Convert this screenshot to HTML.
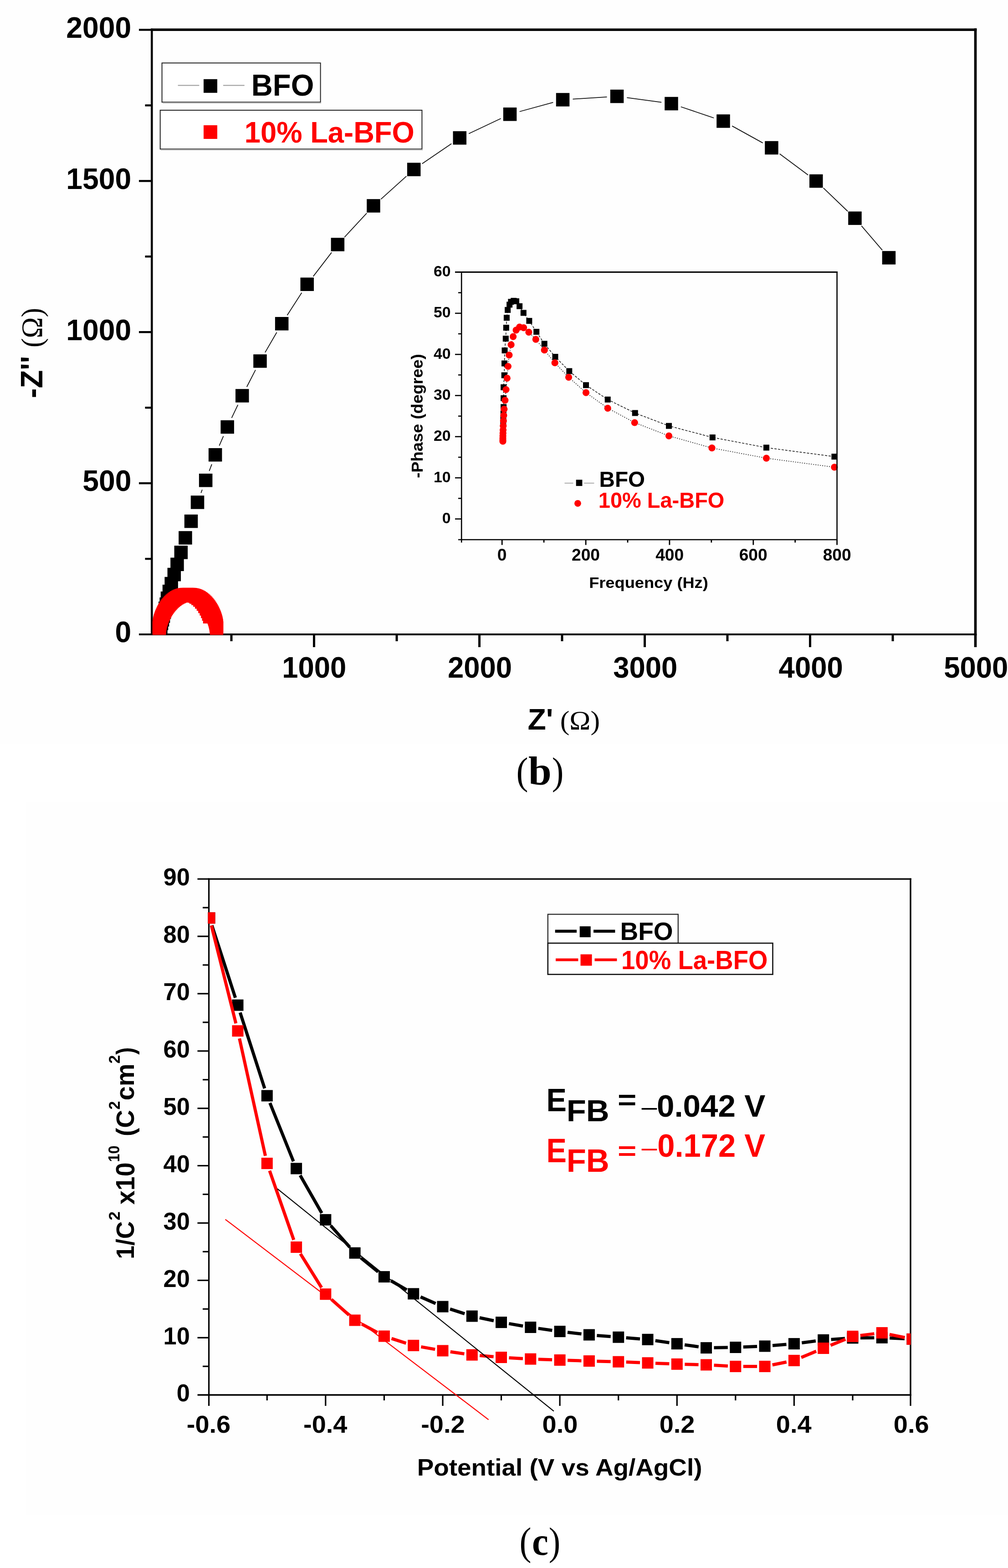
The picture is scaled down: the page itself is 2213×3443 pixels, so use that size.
<!DOCTYPE html>
<html><head><meta charset="utf-8"><title>Figure</title>
<style>html,body{margin:0;padding:0;background:#fff;}svg{display:block;}</style>
</head><body>
<svg width="2213" height="3443" viewBox="0 0 2213 3443">
<rect x="0" y="0" width="2213" height="3443" fill="#ffffff"/>
<rect x="0" y="0" width="2213" height="1634" fill="#fefefe"/>
<rect x="56" y="1761" width="2157" height="1565" fill="#fefefe"/>
<rect x="333.3" y="65.2" width="1808.2" height="1327.8" fill="#fefefe"/>
<line x1="1937.1" y1="549.3" x2="1891.3" y2="495.9" stroke="#111" stroke-width="1.8"/>
<line x1="1861.1" y1="464" x2="1807.6" y2="412.7" stroke="#111" stroke-width="1.8"/>
<line x1="1774.1" y1="384.3" x2="1711.6" y2="337.7" stroke="#111" stroke-width="1.8"/>
<line x1="1674.7" y1="313.9" x2="1607.3" y2="276.6" stroke="#111" stroke-width="1.8"/>
<line x1="1567.2" y1="259" x2="1494.8" y2="234.5" stroke="#111" stroke-width="1.8"/>
<line x1="1452.2" y1="224.6" x2="1376.3" y2="214.4" stroke="#111" stroke-width="1.8"/>
<line x1="1332.5" y1="212.9" x2="1257.5" y2="217.6" stroke="#111" stroke-width="1.8"/>
<line x1="1214.3" y1="224.8" x2="1140.7" y2="245" stroke="#111" stroke-width="1.8"/>
<line x1="1099.6" y1="260.2" x2="1029.2" y2="293.5" stroke="#111" stroke-width="1.8"/>
<line x1="991.2" y1="315.4" x2="926.7" y2="359.6" stroke="#111" stroke-width="1.8"/>
<line x1="892.3" y1="386.8" x2="836.3" y2="437.3" stroke="#111" stroke-width="1.8"/>
<line x1="805.1" y1="468.2" x2="756.3" y2="520.8" stroke="#111" stroke-width="1.8"/>
<line x1="728" y1="554.4" x2="687.7" y2="606.9" stroke="#111" stroke-width="1.8"/>
<line x1="662.4" y1="642.8" x2="630.5" y2="692.2" stroke="#111" stroke-width="1.8"/>
<line x1="607.6" y1="729.7" x2="582" y2="773.9" stroke="#111" stroke-width="1.8"/>
<line x1="560.9" y1="812.4" x2="541.8" y2="849.5" stroke="#111" stroke-width="1.8"/>
<line x1="522.3" y1="888.9" x2="508.6" y2="917.6" stroke="#111" stroke-width="1.8"/>
<line x1="490.5" y1="957.7" x2="481.4" y2="978.6" stroke="#111" stroke-width="1.8"/>
<line x1="465" y1="1019.4" x2="459.4" y2="1034.1" stroke="#111" stroke-width="1.8"/>
<line x1="443.9" y1="1075.3" x2="441.3" y2="1082.4" stroke="#111" stroke-width="1.8"/>
<rect x="1936.7" y="551.2" width="29.5" height="29.5" fill="#000"/>
<rect x="1862.2" y="464.4" width="29.5" height="29.5" fill="#000"/>
<rect x="1777" y="382.8" width="29.5" height="29.5" fill="#000"/>
<rect x="1679.2" y="309.8" width="29.5" height="29.5" fill="#000"/>
<rect x="1573.2" y="251.2" width="29.5" height="29.5" fill="#000"/>
<rect x="1459.2" y="212.8" width="29.5" height="29.5" fill="#000"/>
<rect x="1339.8" y="196.8" width="29.5" height="29.5" fill="#000"/>
<rect x="1220.8" y="204.2" width="29.5" height="29.5" fill="#000"/>
<rect x="1104.8" y="236.1" width="29.5" height="29.5" fill="#000"/>
<rect x="994.5" y="288.1" width="29.5" height="29.5" fill="#000"/>
<rect x="893.9" y="357.4" width="29.5" height="29.5" fill="#000"/>
<rect x="805.2" y="437.2" width="29.5" height="29.5" fill="#000"/>
<rect x="726.6" y="522.2" width="29.5" height="29.5" fill="#000"/>
<rect x="659.5" y="609.5" width="29.5" height="29.5" fill="#000"/>
<rect x="603.9" y="696" width="29.5" height="29.5" fill="#000"/>
<rect x="556.2" y="778.1" width="29.5" height="29.5" fill="#000"/>
<rect x="517" y="854.2" width="29.5" height="29.5" fill="#000"/>
<rect x="484.4" y="922.8" width="29.5" height="29.5" fill="#000"/>
<rect x="457.9" y="984" width="29.5" height="29.5" fill="#000"/>
<rect x="436.9" y="1040" width="29.5" height="29.5" fill="#000"/>
<rect x="418.8" y="1088.2" width="29.5" height="29.5" fill="#000"/>
<rect x="404.8" y="1129.8" width="29.5" height="29.5" fill="#000"/>
<rect x="392.2" y="1166.2" width="29.5" height="29.5" fill="#000"/>
<rect x="382.6" y="1198.2" width="29.5" height="29.5" fill="#000"/>
<rect x="374.2" y="1224.5" width="29.5" height="29.5" fill="#000"/>
<rect x="367.6" y="1246.8" width="29.5" height="29.5" fill="#000"/>
<rect x="361.4" y="1266.8" width="29.5" height="29.5" fill="#000"/>
<rect x="356.8" y="1283.8" width="29.5" height="29.5" fill="#000"/>
<rect x="352.8" y="1298.8" width="29.5" height="29.5" fill="#000"/>
<rect x="350.4" y="1311.8" width="29.5" height="29.5" fill="#000"/>
<rect x="348.1" y="1320.8" width="29.5" height="29.5" fill="#000"/>
<rect x="345.8" y="1329.8" width="29.5" height="29.5" fill="#000"/>
<rect x="343.8" y="1338.2" width="29.5" height="29.5" fill="#000"/>
<rect x="341.8" y="1346.2" width="29.5" height="29.5" fill="#000"/>
<rect x="339.8" y="1354.2" width="29.5" height="29.5" fill="#000"/>
<rect x="338.2" y="1362.2" width="29.5" height="29.5" fill="#000"/>
<line x1="333.3" y1="62.7" x2="333.3" y2="1395" stroke="#000" stroke-width="4.6"/>
<line x1="2141.5" y1="62.2" x2="2141.5" y2="1395" stroke="#000" stroke-width="5.6"/>
<line x1="331" y1="65.2" x2="2144.3" y2="65.2" stroke="#000" stroke-width="5.6"/>
<line x1="305" y1="1393" x2="2144.3" y2="1393" stroke="#000" stroke-width="4.2"/>
<clipPath id="cb"><rect x="333" y="60" width="1810" height="1334.8"/></clipPath>
<g clip-path="url(#cb)">
<rect x="334.8" y="1364.8" width="29.5" height="29.5" fill="#ff0000"/>
<rect x="334.8" y="1363.2" width="29.5" height="29.5" fill="#ff0000"/>
<rect x="335" y="1361.1" width="29.5" height="29.5" fill="#ff0000"/>
<rect x="335.3" y="1358.7" width="29.5" height="29.5" fill="#ff0000"/>
<rect x="335.8" y="1356.2" width="29.5" height="29.5" fill="#ff0000"/>
<rect x="336.3" y="1353.4" width="29.5" height="29.5" fill="#ff0000"/>
<rect x="337" y="1350.6" width="29.5" height="29.5" fill="#ff0000"/>
<rect x="337.8" y="1347.7" width="29.5" height="29.5" fill="#ff0000"/>
<rect x="338.8" y="1344.7" width="29.5" height="29.5" fill="#ff0000"/>
<rect x="339.8" y="1341.7" width="29.5" height="29.5" fill="#ff0000"/>
<rect x="341" y="1338.7" width="29.5" height="29.5" fill="#ff0000"/>
<rect x="342.3" y="1335.7" width="29.5" height="29.5" fill="#ff0000"/>
<rect x="343.7" y="1332.6" width="29.5" height="29.5" fill="#ff0000"/>
<rect x="345.2" y="1329.6" width="29.5" height="29.5" fill="#ff0000"/>
<rect x="346.8" y="1326.7" width="29.5" height="29.5" fill="#ff0000"/>
<rect x="348.5" y="1323.8" width="29.5" height="29.5" fill="#ff0000"/>
<rect x="350.3" y="1320.9" width="29.5" height="29.5" fill="#ff0000"/>
<rect x="352.2" y="1318.1" width="29.5" height="29.5" fill="#ff0000"/>
<rect x="354.2" y="1315.4" width="29.5" height="29.5" fill="#ff0000"/>
<rect x="356.3" y="1312.8" width="29.5" height="29.5" fill="#ff0000"/>
<rect x="358.5" y="1310.3" width="29.5" height="29.5" fill="#ff0000"/>
<rect x="360.7" y="1308" width="29.5" height="29.5" fill="#ff0000"/>
<rect x="363" y="1305.7" width="29.5" height="29.5" fill="#ff0000"/>
<rect x="365.4" y="1303.6" width="29.5" height="29.5" fill="#ff0000"/>
<rect x="367.9" y="1301.6" width="29.5" height="29.5" fill="#ff0000"/>
<rect x="370.4" y="1299.8" width="29.5" height="29.5" fill="#ff0000"/>
<rect x="373" y="1298.1" width="29.5" height="29.5" fill="#ff0000"/>
<rect x="375.6" y="1296.6" width="29.5" height="29.5" fill="#ff0000"/>
<rect x="378.3" y="1295.2" width="29.5" height="29.5" fill="#ff0000"/>
<rect x="381" y="1294.1" width="29.5" height="29.5" fill="#ff0000"/>
<rect x="383.7" y="1293.1" width="29.5" height="29.5" fill="#ff0000"/>
<rect x="386.5" y="1292.2" width="29.5" height="29.5" fill="#ff0000"/>
<rect x="389.3" y="1291.6" width="29.5" height="29.5" fill="#ff0000"/>
<rect x="392.1" y="1291.1" width="29.5" height="29.5" fill="#ff0000"/>
<rect x="394.9" y="1290.8" width="29.5" height="29.5" fill="#ff0000"/>
<rect x="397.8" y="1290.8" width="29.5" height="29.5" fill="#ff0000"/>
<rect x="400.6" y="1290.8" width="29.5" height="29.5" fill="#ff0000"/>
<rect x="403.4" y="1291.1" width="29.5" height="29.5" fill="#ff0000"/>
<rect x="406.2" y="1291.6" width="29.5" height="29.5" fill="#ff0000"/>
<rect x="409" y="1292.2" width="29.5" height="29.5" fill="#ff0000"/>
<rect x="411.8" y="1293.1" width="29.5" height="29.5" fill="#ff0000"/>
<rect x="414.5" y="1294.1" width="29.5" height="29.5" fill="#ff0000"/>
<rect x="417.2" y="1295.2" width="29.5" height="29.5" fill="#ff0000"/>
<rect x="419.9" y="1296.6" width="29.5" height="29.5" fill="#ff0000"/>
<rect x="422.5" y="1298.1" width="29.5" height="29.5" fill="#ff0000"/>
<rect x="425.1" y="1299.8" width="29.5" height="29.5" fill="#ff0000"/>
<rect x="427.6" y="1301.6" width="29.5" height="29.5" fill="#ff0000"/>
<rect x="430.1" y="1303.6" width="29.5" height="29.5" fill="#ff0000"/>
<rect x="432.5" y="1305.7" width="29.5" height="29.5" fill="#ff0000"/>
<rect x="434.8" y="1308" width="29.5" height="29.5" fill="#ff0000"/>
<rect x="437" y="1310.3" width="29.5" height="29.5" fill="#ff0000"/>
<rect x="439.2" y="1312.8" width="29.5" height="29.5" fill="#ff0000"/>
<rect x="441.3" y="1315.4" width="29.5" height="29.5" fill="#ff0000"/>
<rect x="443.3" y="1318.1" width="29.5" height="29.5" fill="#ff0000"/>
<rect x="445.2" y="1320.9" width="29.5" height="29.5" fill="#ff0000"/>
<rect x="447" y="1323.8" width="29.5" height="29.5" fill="#ff0000"/>
<rect x="448.7" y="1326.7" width="29.5" height="29.5" fill="#ff0000"/>
<rect x="450.3" y="1329.6" width="29.5" height="29.5" fill="#ff0000"/>
<rect x="451.8" y="1332.6" width="29.5" height="29.5" fill="#ff0000"/>
<rect x="453.2" y="1335.7" width="29.5" height="29.5" fill="#ff0000"/>
<rect x="454.5" y="1338.7" width="29.5" height="29.5" fill="#ff0000"/>
<rect x="455.7" y="1341.7" width="29.5" height="29.5" fill="#ff0000"/>
<rect x="456.7" y="1344.7" width="29.5" height="29.5" fill="#ff0000"/>
<rect x="457.7" y="1347.7" width="29.5" height="29.5" fill="#ff0000"/>
<rect x="458.5" y="1350.6" width="29.5" height="29.5" fill="#ff0000"/>
<rect x="459.2" y="1353.4" width="29.5" height="29.5" fill="#ff0000"/>
<rect x="459.7" y="1356.2" width="29.5" height="29.5" fill="#ff0000"/>
<rect x="460.2" y="1358.7" width="29.5" height="29.5" fill="#ff0000"/>
<rect x="460.5" y="1361.1" width="29.5" height="29.5" fill="#ff0000"/>
<rect x="460.7" y="1363.2" width="29.5" height="29.5" fill="#ff0000"/>
<rect x="460.8" y="1364.8" width="29.5" height="29.5" fill="#ff0000"/>
<rect x="445.8" y="1339.5" width="29.5" height="29.5" fill="#ff0000"/>
<rect x="443.6" y="1333.6" width="29.5" height="29.5" fill="#ff0000"/>
<rect x="441.2" y="1327.8" width="29.5" height="29.5" fill="#ff0000"/>
<rect x="438.4" y="1322.2" width="29.5" height="29.5" fill="#ff0000"/>
<rect x="435.2" y="1316.8" width="29.5" height="29.5" fill="#ff0000"/>
<rect x="431.8" y="1311.7" width="29.5" height="29.5" fill="#ff0000"/>
<rect x="428.1" y="1307.1" width="29.5" height="29.5" fill="#ff0000"/>
<rect x="424.2" y="1302.9" width="29.5" height="29.5" fill="#ff0000"/>
<rect x="420.1" y="1299.3" width="29.5" height="29.5" fill="#ff0000"/>
<rect x="415.9" y="1296.3" width="29.5" height="29.5" fill="#ff0000"/>
<rect x="411.5" y="1293.9" width="29.5" height="29.5" fill="#ff0000"/>
</g>
<line x1="305" y1="1061.1" x2="333.3" y2="1061.1" stroke="#000" stroke-width="4.4"/>
<line x1="305" y1="729.2" x2="333.3" y2="729.2" stroke="#000" stroke-width="4.4"/>
<line x1="305" y1="397.4" x2="333.3" y2="397.4" stroke="#000" stroke-width="4.4"/>
<line x1="305" y1="65.5" x2="333.3" y2="65.5" stroke="#000" stroke-width="4.4"/>
<line x1="318.5" y1="1227.1" x2="333.3" y2="1227.1" stroke="#000" stroke-width="4.4"/>
<line x1="318.5" y1="895.2" x2="333.3" y2="895.2" stroke="#000" stroke-width="4.4"/>
<line x1="318.5" y1="563.3" x2="333.3" y2="563.3" stroke="#000" stroke-width="4.4"/>
<line x1="318.5" y1="231.4" x2="333.3" y2="231.4" stroke="#000" stroke-width="4.4"/>
<line x1="689.5" y1="1393" x2="689.5" y2="1421" stroke="#000" stroke-width="5"/>
<line x1="1052.5" y1="1393" x2="1052.5" y2="1421" stroke="#000" stroke-width="5"/>
<line x1="1415.5" y1="1393" x2="1415.5" y2="1421" stroke="#000" stroke-width="5"/>
<line x1="1778.5" y1="1393" x2="1778.5" y2="1421" stroke="#000" stroke-width="5"/>
<line x1="2141.5" y1="1393" x2="2141.5" y2="1421" stroke="#000" stroke-width="5.6"/>
<line x1="508" y1="1393" x2="508" y2="1408" stroke="#000" stroke-width="5"/>
<line x1="871" y1="1393" x2="871" y2="1408" stroke="#000" stroke-width="5"/>
<line x1="1234" y1="1393" x2="1234" y2="1408" stroke="#000" stroke-width="5"/>
<line x1="1597" y1="1393" x2="1597" y2="1408" stroke="#000" stroke-width="5"/>
<line x1="1960" y1="1393" x2="1960" y2="1408" stroke="#000" stroke-width="5"/>
<text transform="translate(252.60,1410.36) scale(1.0030,1)" font-family="'Liberation Sans', Arial, sans-serif" font-size="64.08" font-weight="bold" fill="#000">0</text>
<text transform="translate(181.25,1078.48) scale(1.0030,1)" font-family="'Liberation Sans', Arial, sans-serif" font-size="64.08" font-weight="bold" fill="#000">500</text>
<text transform="translate(145.25,746.61) scale(1.0030,1)" font-family="'Liberation Sans', Arial, sans-serif" font-size="64.08" font-weight="bold" fill="#000">1000</text>
<text transform="translate(145.25,414.73) scale(1.0030,1)" font-family="'Liberation Sans', Arial, sans-serif" font-size="64.08" font-weight="bold" fill="#000">1500</text>
<text transform="translate(145.25,82.86) scale(1.0030,1)" font-family="'Liberation Sans', Arial, sans-serif" font-size="64.08" font-weight="bold" fill="#000">2000</text>
<text transform="translate(619.19,1487.76) scale(0.9920,1)" font-family="'Liberation Sans', Arial, sans-serif" font-size="63.94" font-weight="bold" fill="#000">1000</text>
<text transform="translate(982.99,1487.76) scale(0.9920,1)" font-family="'Liberation Sans', Arial, sans-serif" font-size="63.94" font-weight="bold" fill="#000">2000</text>
<text transform="translate(1346.30,1487.76) scale(0.9920,1)" font-family="'Liberation Sans', Arial, sans-serif" font-size="63.94" font-weight="bold" fill="#000">3000</text>
<text transform="translate(1709.62,1487.76) scale(0.9920,1)" font-family="'Liberation Sans', Arial, sans-serif" font-size="63.94" font-weight="bold" fill="#000">4000</text>
<text transform="translate(2072.15,1487.76) scale(0.9920,1)" font-family="'Liberation Sans', Arial, sans-serif" font-size="63.94" font-weight="bold" fill="#000">5000</text>
<text transform="translate(1158.42,1601.80) scale(1.0187,1)" font-family="'Liberation Sans', Arial, sans-serif" font-size="64.93" font-weight="bold" fill="#000">Z'</text>
<text transform="translate(1229.71,1601.86) scale(1.0541,1)" font-family="'Liberation Serif', 'Times New Roman', serif" font-size="58.79" font-weight="normal" fill="#000">(Ω)</text>
<text transform="translate(92.90,874.21) rotate(-90) scale(0.9472,1)" font-family="'Liberation Sans', Arial, sans-serif" font-size="68.84" font-weight="bold" fill="#000">-Z''</text>
<text transform="translate(91.53,763.08) rotate(-90) scale(0.9314,1)" font-family="'Liberation Serif', 'Times New Roman', serif" font-size="66.37" font-weight="normal" fill="#000">(Ω)</text>
<rect x="355.6" y="138.3" width="348" height="86" fill="#ffffff" stroke="#222" stroke-width="2"/>
<line x1="357" y1="226" x2="705" y2="226" stroke="#bbb" stroke-width="2.5"/>
<line x1="390.6" y1="187.5" x2="437.4" y2="187.5" stroke="#999" stroke-width="1.8"/>
<line x1="490" y1="187.5" x2="536.7" y2="187.5" stroke="#999" stroke-width="1.8"/>
<rect x="447" y="173.8" width="30" height="30" fill="#000"/>
<text transform="translate(551.76,209.74) scale(0.9889,1)" font-family="'Liberation Sans', Arial, sans-serif" font-size="65.92" font-weight="bold" fill="#000">BFO</text>
<rect x="351.7" y="242" width="574.7" height="85.3" fill="#ffffff" stroke="#222" stroke-width="2"/>
<line x1="353" y1="329" x2="928" y2="329" stroke="#bbb" stroke-width="2.5"/>
<rect x="447" y="275" width="30" height="30" fill="#ff0000"/>
<text transform="translate(536.80,312.94) scale(0.9650,1)" font-family="'Liberation Sans', Arial, sans-serif" font-size="65.63" font-weight="bold" fill="#ff0000">10% La-BFO</text>
<rect x="1013.2" y="597.5" width="824.4" height="587.5" fill="#fefefe"/>
<path d="M1831.9,1002.7 L1682.5,982.9 L1564.3,960.5 L1468.5,935.2 L1394.2,906.9 L1334.2,877.3 L1286.5,845.7 L1249.8,814.9 L1219,783.5 L1195.2,754.9 L1177.7,728.6 L1161.9,704.6 L1149.3,687 L1140.6,672.3 L1133.5,661.5 L1127.7,660.5 L1121.8,662.8 L1118.6,669 L1114.6,680.6 L1112.4,697.8 L1111.3,719.6 L1110.3,743.6 L1108,769.5 L1107.5,798 L1107.2,824 L1105.6,850.3 L1105.6,874.3 L1105.6,893.8 L1105.3,908 L1105,920 L1104.8,930" fill="none" stroke="#222" stroke-width="1.6" stroke-dasharray="5,3"/>
<path d="M1831.9,1025.9 L1682.5,1006.1 L1563,983.7 L1468.5,957.1 L1393.3,928 L1334.2,896.3 L1286.5,862.2 L1248.5,828.4 L1218.2,796.7 L1195.2,768.7 L1176.3,745.1 L1160.9,729.4 L1149.6,719.6 L1140.6,718.1 L1133.1,724.9 L1126.6,739.1 L1122.1,756.9 L1117.8,779.7 L1115.4,804.5 L1113.3,830.4 L1111,855.5 L1108.8,878.8 L1106.8,898.3 L1105.9,912 L1105.3,924 L1104.8,935 L1104.5,944 L1104.3,951 L1104.1,957 L1104,962 L1104,966 L1104,969" fill="none" stroke="#222" stroke-width="1.6" stroke-dasharray="2,3"/>
<rect x="1825.4" y="996.2" width="13" height="13" fill="#000"/>
<rect x="1676" y="976.4" width="13" height="13" fill="#000"/>
<rect x="1557.8" y="954" width="13" height="13" fill="#000"/>
<rect x="1462" y="928.7" width="13" height="13" fill="#000"/>
<rect x="1387.7" y="900.4" width="13" height="13" fill="#000"/>
<rect x="1327.7" y="870.8" width="13" height="13" fill="#000"/>
<rect x="1280" y="839.2" width="13" height="13" fill="#000"/>
<rect x="1243.3" y="808.4" width="13" height="13" fill="#000"/>
<rect x="1212.5" y="777" width="13" height="13" fill="#000"/>
<rect x="1188.7" y="748.4" width="13" height="13" fill="#000"/>
<rect x="1171.2" y="722.1" width="13" height="13" fill="#000"/>
<rect x="1155.4" y="698.1" width="13" height="13" fill="#000"/>
<rect x="1142.8" y="680.5" width="13" height="13" fill="#000"/>
<rect x="1134.1" y="665.8" width="13" height="13" fill="#000"/>
<rect x="1127" y="655" width="13" height="13" fill="#000"/>
<rect x="1121.2" y="654" width="13" height="13" fill="#000"/>
<rect x="1115.3" y="656.3" width="13" height="13" fill="#000"/>
<rect x="1112.1" y="662.5" width="13" height="13" fill="#000"/>
<rect x="1108.1" y="674.1" width="13" height="13" fill="#000"/>
<rect x="1105.9" y="691.3" width="13" height="13" fill="#000"/>
<rect x="1104.8" y="713.1" width="13" height="13" fill="#000"/>
<rect x="1103.8" y="737.1" width="13" height="13" fill="#000"/>
<rect x="1101.5" y="763" width="13" height="13" fill="#000"/>
<rect x="1101" y="791.5" width="13" height="13" fill="#000"/>
<rect x="1100.7" y="817.5" width="13" height="13" fill="#000"/>
<rect x="1099.1" y="843.8" width="13" height="13" fill="#000"/>
<rect x="1099.1" y="867.8" width="13" height="13" fill="#000"/>
<rect x="1099.1" y="887.3" width="13" height="13" fill="#000"/>
<rect x="1098.8" y="901.5" width="13" height="13" fill="#000"/>
<rect x="1098.5" y="913.5" width="13" height="13" fill="#000"/>
<rect x="1098.3" y="923.5" width="13" height="13" fill="#000"/>
<circle cx="1831.9" cy="1025.9" r="7.6" fill="#ff0000"/>
<circle cx="1682.5" cy="1006.1" r="7.6" fill="#ff0000"/>
<circle cx="1563" cy="983.7" r="7.6" fill="#ff0000"/>
<circle cx="1468.5" cy="957.1" r="7.6" fill="#ff0000"/>
<circle cx="1393.3" cy="928" r="7.6" fill="#ff0000"/>
<circle cx="1334.2" cy="896.3" r="7.6" fill="#ff0000"/>
<circle cx="1286.5" cy="862.2" r="7.6" fill="#ff0000"/>
<circle cx="1248.5" cy="828.4" r="7.6" fill="#ff0000"/>
<circle cx="1218.2" cy="796.7" r="7.6" fill="#ff0000"/>
<circle cx="1195.2" cy="768.7" r="7.6" fill="#ff0000"/>
<circle cx="1176.3" cy="745.1" r="7.6" fill="#ff0000"/>
<circle cx="1160.9" cy="729.4" r="7.6" fill="#ff0000"/>
<circle cx="1149.6" cy="719.6" r="7.6" fill="#ff0000"/>
<circle cx="1140.6" cy="718.1" r="7.6" fill="#ff0000"/>
<circle cx="1133.1" cy="724.9" r="7.6" fill="#ff0000"/>
<circle cx="1126.6" cy="739.1" r="7.6" fill="#ff0000"/>
<circle cx="1122.1" cy="756.9" r="7.6" fill="#ff0000"/>
<circle cx="1117.8" cy="779.7" r="7.6" fill="#ff0000"/>
<circle cx="1115.4" cy="804.5" r="7.6" fill="#ff0000"/>
<circle cx="1113.3" cy="830.4" r="7.6" fill="#ff0000"/>
<circle cx="1111" cy="855.5" r="7.6" fill="#ff0000"/>
<circle cx="1108.8" cy="878.8" r="7.6" fill="#ff0000"/>
<circle cx="1106.8" cy="898.3" r="7.6" fill="#ff0000"/>
<circle cx="1105.9" cy="912" r="7.6" fill="#ff0000"/>
<circle cx="1105.3" cy="924" r="7.6" fill="#ff0000"/>
<circle cx="1104.8" cy="935" r="7.6" fill="#ff0000"/>
<circle cx="1104.5" cy="944" r="7.6" fill="#ff0000"/>
<circle cx="1104.3" cy="951" r="7.6" fill="#ff0000"/>
<circle cx="1104.1" cy="957" r="7.6" fill="#ff0000"/>
<circle cx="1104" cy="962" r="7.6" fill="#ff0000"/>
<circle cx="1104" cy="966" r="7.6" fill="#ff0000"/>
<circle cx="1104" cy="969" r="7.6" fill="#ff0000"/>
<line x1="1013.2" y1="596" x2="1013.2" y2="1186.3" stroke="#000" stroke-width="2.6"/>
<line x1="1837.6" y1="596" x2="1837.6" y2="1186.3" stroke="#000" stroke-width="2.6"/>
<line x1="999" y1="597.5" x2="1838.9" y2="597.5" stroke="#000" stroke-width="3"/>
<line x1="1006" y1="1185" x2="1838.9" y2="1185" stroke="#000" stroke-width="2.6"/>
<line x1="999" y1="1139.5" x2="1013.2" y2="1139.5" stroke="#000" stroke-width="2.6"/>
<line x1="999" y1="1049.2" x2="1013.2" y2="1049.2" stroke="#000" stroke-width="2.6"/>
<line x1="999" y1="958.8" x2="1013.2" y2="958.8" stroke="#000" stroke-width="2.6"/>
<line x1="999" y1="868.5" x2="1013.2" y2="868.5" stroke="#000" stroke-width="2.6"/>
<line x1="999" y1="778.2" x2="1013.2" y2="778.2" stroke="#000" stroke-width="2.6"/>
<line x1="999" y1="687.9" x2="1013.2" y2="687.9" stroke="#000" stroke-width="2.6"/>
<line x1="999" y1="597.5" x2="1013.2" y2="597.5" stroke="#000" stroke-width="2.6"/>
<line x1="1006" y1="1094.3" x2="1013.2" y2="1094.3" stroke="#000" stroke-width="2.6"/>
<line x1="1006" y1="1004" x2="1013.2" y2="1004" stroke="#000" stroke-width="2.6"/>
<line x1="1006" y1="913.7" x2="1013.2" y2="913.7" stroke="#000" stroke-width="2.6"/>
<line x1="1006" y1="823.3" x2="1013.2" y2="823.3" stroke="#000" stroke-width="2.6"/>
<line x1="1006" y1="733" x2="1013.2" y2="733" stroke="#000" stroke-width="2.6"/>
<line x1="1006" y1="642.7" x2="1013.2" y2="642.7" stroke="#000" stroke-width="2.6"/>
<line x1="1102.2" y1="1185" x2="1102.2" y2="1196.6" stroke="#000" stroke-width="2.8"/>
<line x1="1286.1" y1="1185" x2="1286.1" y2="1196.6" stroke="#000" stroke-width="2.8"/>
<line x1="1469.9" y1="1185" x2="1469.9" y2="1196.6" stroke="#000" stroke-width="2.8"/>
<line x1="1653.8" y1="1185" x2="1653.8" y2="1196.6" stroke="#000" stroke-width="2.8"/>
<line x1="1837.6" y1="1185" x2="1837.6" y2="1196.6" stroke="#000" stroke-width="2.8"/>
<line x1="1013.2" y1="1185" x2="1013.2" y2="1191.4" stroke="#000" stroke-width="2.6"/>
<line x1="1194.1" y1="1185" x2="1194.1" y2="1191.4" stroke="#000" stroke-width="2.8"/>
<line x1="1378" y1="1185" x2="1378" y2="1191.4" stroke="#000" stroke-width="2.8"/>
<line x1="1561.8" y1="1185" x2="1561.8" y2="1191.4" stroke="#000" stroke-width="2.8"/>
<line x1="1745.7" y1="1185" x2="1745.7" y2="1191.4" stroke="#000" stroke-width="2.8"/>
<text transform="translate(970.72,1149.01) scale(1.0026,1)" font-family="'Liberation Sans', Arial, sans-serif" font-size="33.66" font-weight="bold" fill="#000">0</text>
<text transform="translate(951.99,1058.68) scale(1.0026,1)" font-family="'Liberation Sans', Arial, sans-serif" font-size="33.66" font-weight="bold" fill="#000">10</text>
<text transform="translate(951.99,968.35) scale(1.0026,1)" font-family="'Liberation Sans', Arial, sans-serif" font-size="33.66" font-weight="bold" fill="#000">20</text>
<text transform="translate(951.99,878.02) scale(1.0026,1)" font-family="'Liberation Sans', Arial, sans-serif" font-size="33.66" font-weight="bold" fill="#000">30</text>
<text transform="translate(951.99,787.69) scale(1.0026,1)" font-family="'Liberation Sans', Arial, sans-serif" font-size="33.66" font-weight="bold" fill="#000">40</text>
<text transform="translate(951.99,697.36) scale(1.0026,1)" font-family="'Liberation Sans', Arial, sans-serif" font-size="33.66" font-weight="bold" fill="#000">50</text>
<text transform="translate(951.99,607.03) scale(1.0026,1)" font-family="'Liberation Sans', Arial, sans-serif" font-size="33.66" font-weight="bold" fill="#000">60</text>
<text transform="translate(1091.64,1231.24) scale(1.0269,1)" font-family="'Liberation Sans', Arial, sans-serif" font-size="36.20" font-weight="bold" fill="#000">0</text>
<text transform="translate(1254.96,1231.24) scale(1.0269,1)" font-family="'Liberation Sans', Arial, sans-serif" font-size="36.20" font-weight="bold" fill="#000">200</text>
<text transform="translate(1439.19,1231.24) scale(1.0269,1)" font-family="'Liberation Sans', Arial, sans-serif" font-size="36.20" font-weight="bold" fill="#000">400</text>
<text transform="translate(1622.68,1231.24) scale(1.0269,1)" font-family="'Liberation Sans', Arial, sans-serif" font-size="36.20" font-weight="bold" fill="#000">600</text>
<text transform="translate(1806.63,1231.24) scale(1.0269,1)" font-family="'Liberation Sans', Arial, sans-serif" font-size="36.20" font-weight="bold" fill="#000">800</text>
<text transform="translate(1293.14,1291.46) scale(1.0657,1)" font-family="'Liberation Sans', Arial, sans-serif" font-size="34.01" font-weight="bold" fill="#000">Frequency (Hz)</text>
<text transform="translate(927.89,1049.85) rotate(-90) scale(1.0302,1)" font-family="'Liberation Sans', Arial, sans-serif" font-size="35.29" font-weight="bold" fill="#000">-Phase (degree)</text>
<line x1="1239.5" y1="1060.8" x2="1258.4" y2="1060.8" stroke="#999" stroke-width="1.6"/>
<line x1="1282.3" y1="1060.8" x2="1304.4" y2="1060.8" stroke="#999" stroke-width="1.6"/>
<rect x="1264.7" y="1053.4" width="13.7" height="13.7" fill="#000"/>
<text transform="translate(1315.60,1069.42)" font-family="'Liberation Sans', Arial, sans-serif" font-size="47.61" font-weight="bold" fill="#000">BFO</text>
<circle cx="1268.4" cy="1105.3" r="7.4" fill="#ff0000"/>
<text transform="translate(1313.78,1115.11) scale(0.9638,1)" font-family="'Liberation Sans', Arial, sans-serif" font-size="48.73" font-weight="bold" fill="#ff0000">10% La-BFO</text>
<text transform="translate(1133.49,1722.40) scale(0.9116,1)" font-family="'Liberation Serif', 'Times New Roman', serif" font-size="85.60" font-weight="normal" fill="#000">(</text>
<text transform="translate(1160.09,1722.71) scale(1.0264,1)" font-family="'Liberation Serif', 'Times New Roman', serif" font-size="88.94" font-weight="bold" fill="#000">b</text>
<text transform="translate(1211.69,1722.40) scale(0.8986,1)" font-family="'Liberation Serif', 'Times New Roman', serif" font-size="85.60" font-weight="normal" fill="#000">)</text>
<rect x="458.6" y="1930.2" width="1540.4" height="1132.8" fill="#fefefe"/>
<line x1="458.6" y1="1928.6" x2="458.6" y2="3064.6" stroke="#000" stroke-width="3.2"/>
<line x1="1999" y1="1928.6" x2="1999" y2="3064.6" stroke="#000" stroke-width="3.4"/>
<line x1="457" y1="1930.2" x2="2000.7" y2="1930.2" stroke="#000" stroke-width="3.2"/>
<line x1="433.6" y1="3063" x2="2000.7" y2="3063" stroke="#000" stroke-width="3.4"/>
<line x1="433.5" y1="2937.3" x2="458.6" y2="2937.3" stroke="#000" stroke-width="3.2"/>
<line x1="433.5" y1="2811.4" x2="458.6" y2="2811.4" stroke="#000" stroke-width="3.2"/>
<line x1="433.5" y1="2685.5" x2="458.6" y2="2685.5" stroke="#000" stroke-width="3.2"/>
<line x1="433.5" y1="2559.6" x2="458.6" y2="2559.6" stroke="#000" stroke-width="3.2"/>
<line x1="433.5" y1="2433.7" x2="458.6" y2="2433.7" stroke="#000" stroke-width="3.2"/>
<line x1="433.5" y1="2307.8" x2="458.6" y2="2307.8" stroke="#000" stroke-width="3.2"/>
<line x1="433.5" y1="2181.9" x2="458.6" y2="2181.9" stroke="#000" stroke-width="3.2"/>
<line x1="433.5" y1="2056" x2="458.6" y2="2056" stroke="#000" stroke-width="3.2"/>
<line x1="433.5" y1="1930.1" x2="458.6" y2="1930.1" stroke="#000" stroke-width="3.2"/>
<line x1="445" y1="3000.2" x2="458.6" y2="3000.2" stroke="#000" stroke-width="3.2"/>
<line x1="445" y1="2874.3" x2="458.6" y2="2874.3" stroke="#000" stroke-width="3.2"/>
<line x1="445" y1="2748.4" x2="458.6" y2="2748.4" stroke="#000" stroke-width="3.2"/>
<line x1="445" y1="2622.5" x2="458.6" y2="2622.5" stroke="#000" stroke-width="3.2"/>
<line x1="445" y1="2496.6" x2="458.6" y2="2496.6" stroke="#000" stroke-width="3.2"/>
<line x1="445" y1="2370.8" x2="458.6" y2="2370.8" stroke="#000" stroke-width="3.2"/>
<line x1="445" y1="2244.8" x2="458.6" y2="2244.8" stroke="#000" stroke-width="3.2"/>
<line x1="445" y1="2118.9" x2="458.6" y2="2118.9" stroke="#000" stroke-width="3.2"/>
<line x1="445" y1="1993" x2="458.6" y2="1993" stroke="#000" stroke-width="3.2"/>
<line x1="458.6" y1="3063" x2="458.6" y2="3087" stroke="#000" stroke-width="3.2"/>
<line x1="714.8" y1="3063" x2="714.8" y2="3087" stroke="#000" stroke-width="3.2"/>
<line x1="972" y1="3063" x2="972" y2="3087" stroke="#000" stroke-width="3.2"/>
<line x1="1229.1" y1="3063" x2="1229.1" y2="3087" stroke="#000" stroke-width="3.2"/>
<line x1="1486.3" y1="3063" x2="1486.3" y2="3087" stroke="#000" stroke-width="3.2"/>
<line x1="1743.4" y1="3063" x2="1743.4" y2="3087" stroke="#000" stroke-width="3.2"/>
<line x1="1999" y1="3063" x2="1999" y2="3087" stroke="#000" stroke-width="3.2"/>
<line x1="586.3" y1="3063" x2="586.3" y2="3075" stroke="#000" stroke-width="3.2"/>
<line x1="843.4" y1="3063" x2="843.4" y2="3075" stroke="#000" stroke-width="3.2"/>
<line x1="1100.5" y1="3063" x2="1100.5" y2="3075" stroke="#000" stroke-width="3.2"/>
<line x1="1357.7" y1="3063" x2="1357.7" y2="3075" stroke="#000" stroke-width="3.2"/>
<line x1="1614.8" y1="3063" x2="1614.8" y2="3075" stroke="#000" stroke-width="3.2"/>
<line x1="1872" y1="3063" x2="1872" y2="3075" stroke="#000" stroke-width="3.2"/>
<clipPath id="cc"><rect x="456.5" y="1928" width="1543" height="1137"/></clipPath>
<g clip-path="url(#cc)">
<line x1="465.2" y1="2031.9" x2="516.7" y2="2190.9" stroke="#000" stroke-width="7"/>
<line x1="527.2" y1="2223.3" x2="581" y2="2389.8" stroke="#000" stroke-width="7"/>
<line x1="592.6" y1="2421.8" x2="644.2" y2="2550.1" stroke="#000" stroke-width="7"/>
<line x1="659" y1="2580.7" x2="706.4" y2="2663.7" stroke="#000" stroke-width="7"/>
<line x1="726.1" y1="2691.2" x2="767.9" y2="2738.6" stroke="#000" stroke-width="7"/>
<line x1="792.3" y1="2762.1" x2="830.2" y2="2792.9" stroke="#000" stroke-width="7"/>
<line x1="858.1" y1="2812.1" x2="893" y2="2832.3" stroke="#000" stroke-width="7"/>
<line x1="923.3" y1="2847.7" x2="956.4" y2="2862.2" stroke="#000" stroke-width="7"/>
<line x1="988.1" y1="2874.3" x2="1020.1" y2="2884.7" stroke="#000" stroke-width="7"/>
<line x1="1052.9" y1="2893.5" x2="1083.9" y2="2900" stroke="#000" stroke-width="7"/>
<line x1="1117.3" y1="2906.4" x2="1148.1" y2="2911.7" stroke="#000" stroke-width="7"/>
<line x1="1181.7" y1="2916.9" x2="1212.3" y2="2921.2" stroke="#000" stroke-width="7"/>
<line x1="1246" y1="2925.5" x2="1276.5" y2="2929.1" stroke="#000" stroke-width="7"/>
<line x1="1310.4" y1="2932.4" x2="1340.7" y2="2934.8" stroke="#000" stroke-width="7"/>
<line x1="1374.6" y1="2937.5" x2="1405" y2="2940" stroke="#000" stroke-width="7"/>
<line x1="1438.8" y1="2943.8" x2="1469.4" y2="2948.2" stroke="#000" stroke-width="7"/>
<line x1="1503.1" y1="2953" x2="1533.7" y2="2957.2" stroke="#000" stroke-width="7"/>
<line x1="1567.5" y1="2959.3" x2="1597.8" y2="2958.8" stroke="#000" stroke-width="7"/>
<line x1="1631.8" y1="2957.8" x2="1662.1" y2="2956.6" stroke="#000" stroke-width="7"/>
<line x1="1696.1" y1="2954.5" x2="1726.5" y2="2952" stroke="#000" stroke-width="7"/>
<line x1="1760.3" y1="2948.5" x2="1790.8" y2="2944.5" stroke="#000" stroke-width="7"/>
<line x1="1824.6" y1="2941.2" x2="1855" y2="2939.1" stroke="#000" stroke-width="7"/>
<line x1="1889" y1="2937.8" x2="1919.3" y2="2937.5" stroke="#000" stroke-width="7"/>
<line x1="1953.2" y1="2938.1" x2="1986" y2="2939.6" stroke="#000" stroke-width="7"/>
<rect x="447.5" y="2003.2" width="25" height="25" fill="#000"/>
<rect x="509.5" y="2194.6" width="25" height="25" fill="#000"/>
<rect x="573.8" y="2393.5" width="25" height="25" fill="#000"/>
<rect x="638.1" y="2553.4" width="25" height="25" fill="#000"/>
<rect x="702.3" y="2665.9" width="25" height="25" fill="#000"/>
<rect x="766.6" y="2738.8" width="25" height="25" fill="#000"/>
<rect x="830.9" y="2791.1" width="25" height="25" fill="#000"/>
<rect x="895.2" y="2828.4" width="25" height="25" fill="#000"/>
<rect x="959.5" y="2856.6" width="25" height="25" fill="#000"/>
<rect x="1023.8" y="2877.5" width="25" height="25" fill="#000"/>
<rect x="1088" y="2891.1" width="25" height="25" fill="#000"/>
<rect x="1152.3" y="2902" width="25" height="25" fill="#000"/>
<rect x="1216.6" y="2911.1" width="25" height="25" fill="#000"/>
<rect x="1280.9" y="2918.5" width="25" height="25" fill="#000"/>
<rect x="1345.2" y="2923.7" width="25" height="25" fill="#000"/>
<rect x="1409.5" y="2928.8" width="25" height="25" fill="#000"/>
<rect x="1473.8" y="2938.1" width="25" height="25" fill="#000"/>
<rect x="1538" y="2947.1" width="25" height="25" fill="#000"/>
<rect x="1602.3" y="2946" width="25" height="25" fill="#000"/>
<rect x="1666.6" y="2943.4" width="25" height="25" fill="#000"/>
<rect x="1730.9" y="2938.1" width="25" height="25" fill="#000"/>
<rect x="1795.2" y="2929.8" width="25" height="25" fill="#000"/>
<rect x="1859.5" y="2925.4" width="25" height="25" fill="#000"/>
<rect x="1923.8" y="2924.8" width="25" height="25" fill="#000"/>
<rect x="1990.5" y="2927.9" width="25" height="25" fill="#000"/>
<line x1="464.1" y1="2032.2" x2="517.9" y2="2247.2" stroke="#ff0000" stroke-width="7"/>
<line x1="525.7" y1="2280.3" x2="582.6" y2="2538" stroke="#ff0000" stroke-width="7"/>
<line x1="591.9" y1="2570.6" x2="644.9" y2="2722.5" stroke="#ff0000" stroke-width="7"/>
<line x1="659.5" y1="2752.9" x2="705.9" y2="2827.3" stroke="#ff0000" stroke-width="7"/>
<line x1="727.5" y1="2853.1" x2="766.4" y2="2887.7" stroke="#ff0000" stroke-width="7"/>
<line x1="794.1" y1="2907.2" x2="828.5" y2="2925.9" stroke="#ff0000" stroke-width="7"/>
<line x1="859.6" y1="2939.2" x2="891.5" y2="2949.3" stroke="#ff0000" stroke-width="7"/>
<line x1="924.4" y1="2957.4" x2="955.2" y2="2962.9" stroke="#ff0000" stroke-width="7"/>
<line x1="988.8" y1="2968.3" x2="1019.4" y2="2972.7" stroke="#ff0000" stroke-width="7"/>
<line x1="1053.2" y1="2976.5" x2="1083.6" y2="2979.1" stroke="#ff0000" stroke-width="7"/>
<line x1="1117.5" y1="2981.4" x2="1147.9" y2="2983.2" stroke="#ff0000" stroke-width="7"/>
<line x1="1181.8" y1="2984.7" x2="1212.1" y2="2985.8" stroke="#ff0000" stroke-width="7"/>
<line x1="1246.1" y1="2987" x2="1276.4" y2="2988" stroke="#ff0000" stroke-width="7"/>
<line x1="1310.4" y1="2989" x2="1340.7" y2="2989.7" stroke="#ff0000" stroke-width="7"/>
<line x1="1374.7" y1="2990.8" x2="1405" y2="2992" stroke="#ff0000" stroke-width="7"/>
<line x1="1439" y1="2993.4" x2="1469.3" y2="2994.6" stroke="#ff0000" stroke-width="7"/>
<line x1="1503.3" y1="2995.7" x2="1533.5" y2="2996.5" stroke="#ff0000" stroke-width="7"/>
<line x1="1567.5" y1="2997.8" x2="1597.9" y2="2999.4" stroke="#ff0000" stroke-width="7"/>
<line x1="1631.8" y1="3000.4" x2="1662.1" y2="3000.4" stroke="#ff0000" stroke-width="7"/>
<line x1="1695.8" y1="2997" x2="1726.7" y2="2990.8" stroke="#ff0000" stroke-width="7"/>
<line x1="1759.1" y1="2980.8" x2="1792" y2="2967" stroke="#ff0000" stroke-width="7"/>
<line x1="1823.4" y1="2954.1" x2="1856.2" y2="2940.8" stroke="#ff0000" stroke-width="7"/>
<line x1="1888.8" y1="2932.4" x2="1919.4" y2="2928.6" stroke="#ff0000" stroke-width="7"/>
<line x1="1952.9" y1="2930.1" x2="1986.4" y2="2937" stroke="#ff0000" stroke-width="7"/>
<rect x="447.5" y="2003.2" width="25" height="25" fill="#ff0000"/>
<rect x="509.5" y="2251.2" width="25" height="25" fill="#ff0000"/>
<rect x="573.8" y="2542.1" width="25" height="25" fill="#ff0000"/>
<rect x="638.1" y="2726" width="25" height="25" fill="#ff0000"/>
<rect x="702.3" y="2829.2" width="25" height="25" fill="#ff0000"/>
<rect x="766.6" y="2886.5" width="25" height="25" fill="#ff0000"/>
<rect x="830.9" y="2921.5" width="25" height="25" fill="#ff0000"/>
<rect x="895.2" y="2941.9" width="25" height="25" fill="#ff0000"/>
<rect x="959.5" y="2953.4" width="25" height="25" fill="#ff0000"/>
<rect x="1023.8" y="2962.6" width="25" height="25" fill="#ff0000"/>
<rect x="1088" y="2968" width="25" height="25" fill="#ff0000"/>
<rect x="1152.3" y="2971.6" width="25" height="25" fill="#ff0000"/>
<rect x="1216.6" y="2973.9" width="25" height="25" fill="#ff0000"/>
<rect x="1280.9" y="2976" width="25" height="25" fill="#ff0000"/>
<rect x="1345.2" y="2977.7" width="25" height="25" fill="#ff0000"/>
<rect x="1409.5" y="2980.2" width="25" height="25" fill="#ff0000"/>
<rect x="1473.8" y="2982.8" width="25" height="25" fill="#ff0000"/>
<rect x="1538" y="2984.4" width="25" height="25" fill="#ff0000"/>
<rect x="1602.3" y="2987.9" width="25" height="25" fill="#ff0000"/>
<rect x="1666.6" y="2987.9" width="25" height="25" fill="#ff0000"/>
<rect x="1730.9" y="2974.9" width="25" height="25" fill="#ff0000"/>
<rect x="1795.2" y="2948" width="25" height="25" fill="#ff0000"/>
<rect x="1859.5" y="2921.9" width="25" height="25" fill="#ff0000"/>
<rect x="1923.8" y="2914.1" width="25" height="25" fill="#ff0000"/>
<rect x="1990.5" y="2927.9" width="25" height="25" fill="#ff0000"/>
</g>
<line x1="609" y1="2610.4" x2="1215.8" y2="3098.6" stroke="#000" stroke-width="2.2"/>
<line x1="494.7" y1="2677.6" x2="1072.6" y2="3117.3" stroke="#ff0000" stroke-width="2.2"/>
<text transform="translate(387.68,3077.47) scale(0.9907,1)" font-family="'Liberation Sans', Arial, sans-serif" font-size="52.96" font-weight="bold" fill="#000">0</text>
<text transform="translate(358.56,2951.57) scale(0.9907,1)" font-family="'Liberation Sans', Arial, sans-serif" font-size="52.96" font-weight="bold" fill="#000">10</text>
<text transform="translate(358.56,2825.67) scale(0.9907,1)" font-family="'Liberation Sans', Arial, sans-serif" font-size="52.96" font-weight="bold" fill="#000">20</text>
<text transform="translate(358.56,2699.77) scale(0.9907,1)" font-family="'Liberation Sans', Arial, sans-serif" font-size="52.96" font-weight="bold" fill="#000">30</text>
<text transform="translate(358.56,2573.87) scale(0.9907,1)" font-family="'Liberation Sans', Arial, sans-serif" font-size="52.96" font-weight="bold" fill="#000">40</text>
<text transform="translate(358.56,2447.97) scale(0.9907,1)" font-family="'Liberation Sans', Arial, sans-serif" font-size="52.96" font-weight="bold" fill="#000">50</text>
<text transform="translate(358.56,2322.07) scale(0.9907,1)" font-family="'Liberation Sans', Arial, sans-serif" font-size="52.96" font-weight="bold" fill="#000">60</text>
<text transform="translate(358.56,2196.17) scale(0.9907,1)" font-family="'Liberation Sans', Arial, sans-serif" font-size="52.96" font-weight="bold" fill="#000">70</text>
<text transform="translate(358.56,2070.27) scale(0.9907,1)" font-family="'Liberation Sans', Arial, sans-serif" font-size="52.96" font-weight="bold" fill="#000">80</text>
<text transform="translate(358.56,1944.37) scale(0.9907,1)" font-family="'Liberation Sans', Arial, sans-serif" font-size="52.96" font-weight="bold" fill="#000">90</text>
<text transform="translate(409.76,3146.06) scale(1.0450,1)" font-family="'Liberation Sans', Arial, sans-serif" font-size="53.52" font-weight="bold" fill="#000">-0.6</text>
<text transform="translate(666.06,3146.06) scale(1.0450,1)" font-family="'Liberation Sans', Arial, sans-serif" font-size="53.52" font-weight="bold" fill="#000">-0.4</text>
<text transform="translate(924.18,3146.06) scale(1.0450,1)" font-family="'Liberation Sans', Arial, sans-serif" font-size="53.52" font-weight="bold" fill="#000">-0.2</text>
<text transform="translate(1190.55,3146.06) scale(1.0450,1)" font-family="'Liberation Sans', Arial, sans-serif" font-size="53.52" font-weight="bold" fill="#000">0.0</text>
<text transform="translate(1447.69,3146.06) scale(1.0450,1)" font-family="'Liberation Sans', Arial, sans-serif" font-size="53.52" font-weight="bold" fill="#000">0.2</text>
<text transform="translate(1703.85,3146.06) scale(1.0450,1)" font-family="'Liberation Sans', Arial, sans-serif" font-size="53.52" font-weight="bold" fill="#000">0.4</text>
<text transform="translate(1961.83,3146.06) scale(1.0450,1)" font-family="'Liberation Sans', Arial, sans-serif" font-size="53.52" font-weight="bold" fill="#000">0.6</text>
<text transform="translate(915.73,3240.44) scale(1.0512,1)" font-family="'Liberation Sans', Arial, sans-serif" font-size="52.19" font-weight="bold" fill="#000">Potential (V vs Ag/AgCl)</text>
<text transform="translate(294.39,2764.81) rotate(-90) scale(0.9669,1)" font-family="'Liberation Sans', Arial, sans-serif" font-size="55.30" font-weight="bold" fill="#000">1/C</text>
<text transform="translate(262.50,2679.74) rotate(-90) scale(1.0202,1)" font-family="'Liberation Sans', Arial, sans-serif" font-size="34.71" font-weight="bold" fill="#000">2</text>
<text transform="translate(294.92,2645.06) rotate(-90) scale(0.9595,1)" font-family="'Liberation Sans', Arial, sans-serif" font-size="57.89" font-weight="bold" fill="#000">x10</text>
<text transform="translate(262.36,2551.54) rotate(-90) scale(0.9421,1)" font-family="'Liberation Sans', Arial, sans-serif" font-size="34.37" font-weight="bold" fill="#000">10</text>
<text transform="translate(294.18,2494.94) rotate(-90)" font-family="'Liberation Sans', Arial, sans-serif" font-size="54.87" font-weight="bold" fill="#000">(C</text>
<text transform="translate(262.50,2436.38) rotate(-90) scale(0.9722,1)" font-family="'Liberation Sans', Arial, sans-serif" font-size="34.71" font-weight="bold" fill="#000">2</text>
<text transform="translate(294.42,2416.24) rotate(-90) scale(0.9670,1)" font-family="'Liberation Sans', Arial, sans-serif" font-size="57.82" font-weight="bold" fill="#000">cm</text>
<text transform="translate(262.50,2335.58) rotate(-90) scale(0.9722,1)" font-family="'Liberation Sans', Arial, sans-serif" font-size="34.71" font-weight="bold" fill="#000">2</text>
<text transform="translate(294.18,2315.70) rotate(-90) scale(0.8825,1)" font-family="'Liberation Sans', Arial, sans-serif" font-size="54.87" font-weight="bold" fill="#000">)</text>
<rect x="1202.8" y="2007.6" width="286" height="63.4" fill="#ffffff" stroke="#222" stroke-width="2.2"/>
<rect x="1202.8" y="2071" width="493.7" height="68.6" fill="#ffffff" stroke="#111" stroke-width="2.6"/>
<line x1="1218.7" y1="2044.7" x2="1266" y2="2044.7" stroke="#000" stroke-width="6.5"/>
<line x1="1303" y1="2044.7" x2="1350.4" y2="2044.7" stroke="#000" stroke-width="6.5"/>
<rect x="1272.7" y="2034" width="24" height="24" fill="#000"/>
<text transform="translate(1361.42,2063.74) scale(0.9789,1)" font-family="'Liberation Sans', Arial, sans-serif" font-size="56.20" font-weight="bold" fill="#000">BFO</text>
<line x1="1220" y1="2107.5" x2="1269.4" y2="2107.5" stroke="#ff0000" stroke-width="6"/>
<line x1="1305.5" y1="2107.5" x2="1354.4" y2="2107.5" stroke="#ff0000" stroke-width="6"/>
<rect x="1274.5" y="2095.5" width="25" height="25" fill="#ff0000"/>
<text transform="translate(1364.03,2127.83) scale(0.9591,1)" font-family="'Liberation Sans', Arial, sans-serif" font-size="56.90" font-weight="bold" fill="#ff0000">10% La-BFO</text>
<text transform="translate(1199.47,2440.10) scale(0.9487,1)" font-family="'Liberation Sans', Arial, sans-serif" font-size="70.14" font-weight="bold" fill="#000">E</text>
<text transform="translate(1243.82,2461.90) scale(1.0493,1)" font-family="'Liberation Sans', Arial, sans-serif" font-size="67.10" font-weight="bold" fill="#000">FB</text>
<text transform="translate(1355.96,2436.34) scale(1.1764,1)" font-family="'Liberation Sans', Arial, sans-serif" font-size="60.26" font-weight="bold" fill="#000">=</text>
<rect x="1408.6" y="2433" width="33.7" height="3.6" fill="#000"/>
<text transform="translate(1441.94,2451.71)" font-family="'Liberation Sans', Arial, sans-serif" font-size="69.15" font-weight="bold" fill="#000">0.042 V</text>
<text transform="translate(1199.47,2552.30) scale(0.9039,1)" font-family="'Liberation Sans', Arial, sans-serif" font-size="73.62" font-weight="bold" fill="#ff0000">E</text>
<text transform="translate(1243.82,2573.40) scale(0.9895,1)" font-family="'Liberation Sans', Arial, sans-serif" font-size="71.16" font-weight="bold" fill="#ff0000">FB</text>
<text transform="translate(1355.96,2545.74) scale(1.2828,1)" font-family="'Liberation Sans', Arial, sans-serif" font-size="55.26" font-weight="bold" fill="#ff0000">=</text>
<rect x="1408.6" y="2522.5" width="33.7" height="3.6" fill="#ff0000"/>
<text transform="translate(1443.25,2540.30) scale(0.9760,1)" font-family="'Liberation Sans', Arial, sans-serif" font-size="70.42" font-weight="bold" fill="#ff0000">0.172 V</text>
<text transform="translate(1140.49,3413.57) scale(0.9105,1)" font-family="'Liberation Serif', 'Times New Roman', serif" font-size="85.71" font-weight="normal" fill="#000">(</text>
<text transform="translate(1168.07,3413.93) scale(0.9298,1)" font-family="'Liberation Serif', 'Times New Roman', serif" font-size="86.88" font-weight="bold" fill="#000">c</text>
<text transform="translate(1204.80,3413.57) scale(0.8929,1)" font-family="'Liberation Serif', 'Times New Roman', serif" font-size="85.71" font-weight="normal" fill="#000">)</text>
</svg>
</body></html>
